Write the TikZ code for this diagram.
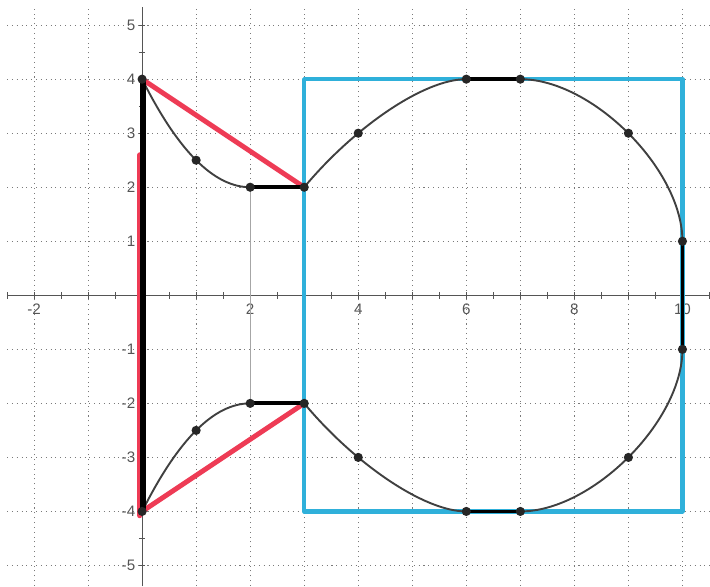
\documentclass[tikz,border=0pt]{standalone}
\usepackage{fontspec}
\setsansfont{Liberation Sans}
\definecolor{penred}{HTML}{EE3B55}
\definecolor{penblue}{HTML}{2FB0DA}
\definecolor{gridgray}{HTML}{7A7A7A}
\definecolor{axisgray}{HTML}{555555}
\begin{document}
\begin{tikzpicture}[x=1cm,y=1cm,
  gridline/.style={gridgray, dotted, line width=0.55pt},
  axisline/.style={axisgray, line width=0.5pt},
  tickmark/.style={axisgray, line width=0.4pt},
  lbl/.style={font=\sffamily\fontsize{8}{9}\selectfont, text=axisgray, inner sep=0pt},
  redpen/.style={penred, line width=2.6pt, line cap=round},
  bluepen/.style={penblue, line width=2.2pt, line cap=round, line join=round},
  thickblack/.style={black, line width=2pt, line cap=round},
  thinblack/.style={black!75, line width=1pt},
  faint/.style={black!35, line width=0.7pt},
  dot/.style={circle, fill=black!85, inner sep=0pt, minimum size=0.17cm}]
\useasboundingbox (-2.63,-5.38) rectangle (10.51,5.465);
\fill[white] (-2.63,-5.38) rectangle (10.51,5.465);
% grid
\foreach \i in {-2,...,10} \draw[gridline] (\i,-5.38) -- (\i,5.33);
\foreach \j in {-5,...,5} \draw[gridline] (-2.5,\j) -- (10.51,\j);
% axes
\draw[axisline] (-2.5,0) -- (10.51,0);
\draw[axisline] (0,-5.38) -- (0,5.33);
\foreach \i in {-2.5,-2,...,10.5} \draw[tickmark] (\i,-0.06) -- (\i,0.06);
\foreach \j in {-5,-4.5,...,5} \draw[tickmark] (-0.06,\j) -- (0.06,\j);
% labels
\foreach \v in {-2,2,4,6,8,10} \node[lbl] (xl\v) at (\v,-0.25) {\v};
\foreach \v in {-5,-4,-3,-2,-1,1,2,3,4,5} \node[lbl, anchor=east] (yl\v) at (-0.12,\v) {\v};
% points
\coordinate (A) at (0,4);
\coordinate (B) at (1,2.5);
\coordinate (C) at (2,2);
\coordinate (D) at (3,2);
\coordinate (E) at (4,3);
\coordinate (F) at (6,4);
\coordinate (G) at (7,4);
\coordinate (H) at (9,3);
\coordinate (I) at (10,1);
\coordinate (J) at (10,-1);
\coordinate (K) at (9,-3);
\coordinate (L) at (7,-4);
\coordinate (M) at (6,-4);
\coordinate (N) at (4,-3);
\coordinate (O) at (3,-2);
\coordinate (P) at (2,-2);
\coordinate (Q) at (1,-2.5);
\coordinate (R) at (0,-4);
% blue rectangle
\draw[bluepen] (3,4) rectangle (10,-4);
% faint line
\draw[faint] (C) -- (P);
% red lines
\draw[redpen] (-0.04,2.6) -- (-0.04,-4.08);
\draw[redpen] (A) -- (D);
\draw[redpen] (R) -- (O);
% curves
\draw[thinblack] (A) .. controls (0.667,2.667) and (1.333,2) .. (C);
\draw[thinblack] (R) .. controls (0.667,-2.667) and (1.333,-2) .. (P);
\draw[thinblack] (D) .. controls (3.9,3.083) and (5.2,4) .. (F);
\draw[thinblack] (G) .. controls (8.33,4) and (10,2.33) .. (I);
\draw[thinblack] (J) .. controls (10,-2.33) and (8.33,-4) .. (L);
\draw[thinblack] (M) .. controls (5.2,-4) and (3.9,-3.083) .. (O);
% thick black segments
\draw[black, line width=3.2pt] (0.01,4) -- (0.01,-4);
\draw[thickblack] (C) -- (D);
\draw[thickblack] (P) -- (O);
\draw[thickblack] (F) -- (G);
\draw[thickblack] (M) -- (L);
\draw[thickblack] (I) -- (J);
% dots
\foreach \p in {A,B,C,D,E,F,G,H,I,J,K,L,M,N,O,P,Q,R} \node[dot] (d\p) at (\p) {};
\end{tikzpicture}
\end{document}
